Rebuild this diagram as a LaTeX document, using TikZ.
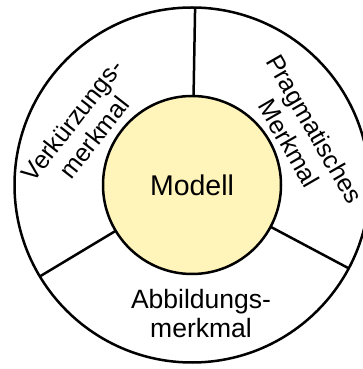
\documentclass[tikz,border=0pt]{standalone}
\usepackage{fontspec}
\setmainfont{Liberation Sans}
\usepackage{tikz}
\usepackage{xcolor}
\definecolor{modellgelb}{HTML}{FFF4BA}
\tikzset{
    ring-circle/.style = {draw=black, circle, line width=2.5pt, outer sep=0pt, inner sep=0pt},
    core-circle/.style = {ring-circle, fill=modellgelb, minimum size=178pt},
    ring-line/.style = {draw=black, line width=2.5pt},
    ring-label/.style = {align=center, inner sep=0pt, font=\fontsize{26.5}{29}\selectfont},
}

\begin{document}
\begin{tikzpicture}[x=1pt, y=1pt]
\path[use as bounding box, clip] (0,0) rectangle (363,369);
\node [ring-circle, minimum size=355pt] (aussen) at (192,184) {};
\draw [ring-line] (aussen.center) ++(89:89) -- (aussen.89);
\draw [ring-line] (aussen.center) ++(211:89) -- (aussen.211);
\draw [ring-line] (aussen.center) ++(332:89) -- (aussen.332);
\node [core-circle, font=\fontsize{28.5}{32}\selectfont] (modell) at (aussen.center) {Modell};
\node [ring-label, rotate=52, font=\fontsize{25}{28}\selectfont] (verkuerzung) at (83,240) {Verkürzungs-\\merkmal};
\node [ring-label, rotate=-60, font=\fontsize{25.2}{29}\selectfont] (pragmatisch) at (302,233) {Pragmatisches\\Merkmal};
\node [ring-label] (abbildung) at (201,55) {Abbildungs-\\merkmal};
\end{tikzpicture}
\end{document}
